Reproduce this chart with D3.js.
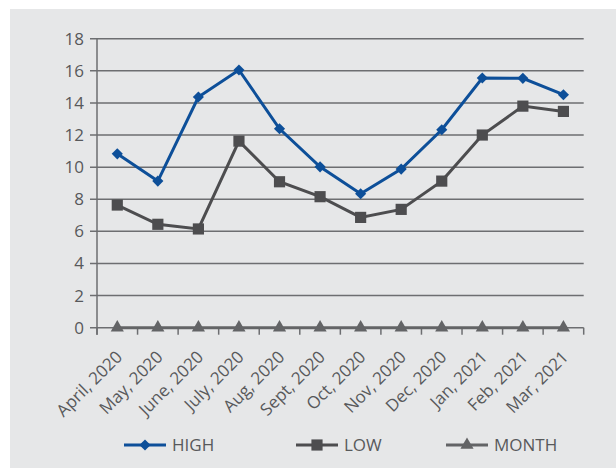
<!DOCTYPE html>
<html>
<head>
<meta charset="utf-8">
<script src="https://cdn.jsdelivr.net/npm/d3@7"></script>
<style>
  body { margin: 0; background: #fff; }
  text { font-family: "Open Sans", sans-serif; fill: #58595b; }
</style>
</head>
<body>
<div id="chart"></div>
<script>
// chart data
var months = ["April, 2020", "May, 2020", "June, 2020", "July, 2020", "Aug, 2020", "Sept, 2020",
              "Oct, 2020", "Nov, 2020", "Dec, 2020", "Jan, 2021", "Feb, 2021", "Mar, 2021"];
var high  = [10.83, 9.13, 14.37, 16.05, 12.39, 10.02, 8.34, 9.88, 12.33, 15.55, 15.53, 14.51];
var low   = [7.64, 6.44, 6.15, 11.62, 9.09, 8.16, 6.87, 7.37, 9.13, 12.0, 13.8, 13.47];
var month = [0, 0, 0, 0, 0, 0, 0, 0, 0, 0, 0, 0];
var yTicks = [0, 2, 4, 6, 8, 10, 12, 14, 16, 18];

var w = 616,
	h = 468,
	plotLeft = 97,		// y-axis position
	plotRight = 583.7,
	plotTop = 38.7,
	plotBottom = 327.7,
	fontSize = "17px";

var svg = d3.select("#chart").append("svg")
	.attr("width", w)
	.attr("height", h);

// grey panel
svg.append("rect")
	.attr("x", 10).attr("y", 9)
	.attr("width", w - 10).attr("height", h - 9)
	.attr("fill", "#e6e7e8");

var xScale = d3.scaleBand()
	.domain(months)
	.range([plotLeft, plotRight]);
var yScale = d3.scaleLinear()
	.domain([0, 18])
	.range([plotBottom, plotTop]);

// horizontal gridlines
svg.selectAll(".grid").data(yTicks)
	.enter().append("line")
	.attr("class", "grid")
	.attr("x1", plotLeft - 7).attr("x2", plotRight)
	.attr("y1", function(d) { return yScale(d); })
	.attr("y2", function(d) { return yScale(d); })
	.style("stroke", "#6d6e71")
	.style("stroke-width", 1.5);

// y axis
var yAxis = d3.axisLeft(yScale)
	.tickValues(yTicks)
	.tickSize(0)
	.tickPadding(13);
var yAxisG = svg.append("g")
	.attr("transform", "translate(" + plotLeft + ",0)")
	.call(yAxis);
yAxisG.select(".domain").remove();
yAxisG.selectAll("text")
	.style("font-family", "Open Sans, sans-serif")
	.style("font-size", fontSize)
	.style("fill", "#58595b");

svg.append("line")
	.attr("x1", plotLeft).attr("x2", plotLeft)
	.attr("y1", plotTop).attr("y2", plotBottom + 7)
	.style("stroke", "#6d6e71")
	.style("stroke-width", 1.5);

// x axis tick marks at band edges
var edges = months.map(function(m) { return xScale(m); }).concat([plotRight]);
svg.selectAll(".xtick").data(edges)
	.enter().append("line")
	.attr("class", "xtick")
	.attr("x1", function(d) { return d; })
	.attr("x2", function(d) { return d; })
	.attr("y1", plotBottom).attr("y2", plotBottom + 7)
	.style("stroke", "#6d6e71")
	.style("stroke-width", 1.5);

// rotated category labels
svg.selectAll(".xlab").data(months)
	.enter().append("text")
	.attr("class", "xlab")
	.attr("transform", function(d) {
		return "translate(" + (xScale(d) + xScale.bandwidth() / 2 + 6) + "," + 358 + ") rotate(-45)";
	})
	.attr("text-anchor", "end")
	.style("font-size", fontSize)
	.text(function(d) { return d; });

// diamond = square turned 45 degrees
var series = [
	{name: "HIGH",  values: high,  color: "#0d4f99", shape: d3.symbolSquare,   size: 62, rot: 45},
	{name: "LOW",   values: low,   color: "#4d4d4f", shape: d3.symbolSquare,   size: 125, rot: 0},
	{name: "MONTH", values: month, color: "#636466", shape: d3.symbolTriangle, size: 75, rot: 0}
];

var line = d3.line()
	.x(function(d, i) { return xScale(months[i]) + xScale.bandwidth() / 2; })
	.y(function(d) { return yScale(d); });

// draw month first so others sit on top
series.slice().reverse().forEach(function(s) {
	svg.append("path")
		.datum(s.values)
		.attr("d", line)
		.style("fill", "none")
		.style("stroke", s.color)
		.style("stroke-width", 3);

	svg.selectAll(".pt-" + s.name).data(s.values)
		.enter().append("path")
		.attr("class", "pt-" + s.name)
		.attr("transform", function(d, i) {
			return "translate(" + (xScale(months[i]) + xScale.bandwidth() / 2) + "," + yScale(d) + ") rotate(" + s.rot + ")";
		})
		.attr("d", d3.symbol().type(s.shape).size(s.size))
		.style("fill", s.color);
});

// legend
var legendX = [124, 296, 446];
var legend = svg.selectAll(".legend").data(series)
	.enter().append("g")
	.attr("class", "legend")
	.attr("transform", function(d, i) { return "translate(" + legendX[i] + ",445)"; });
legend.append("line")
	.attr("x1", 0).attr("x2", 42)
	.style("stroke", function(d) { return d.color; })
	.style("stroke-width", 3);
legend.append("path")
	.attr("transform", function(d) { return "translate(21,0) rotate(" + d.rot + ")"; })
	.attr("d", function(d) { return d3.symbol().type(d.shape).size(d.size)(); })
	.style("fill", function(d) { return d.color; });
legend.append("text")
	.attr("x", 48)
	.attr("y", 6)
	.style("font-size", fontSize)
	.text(function(d) { return d.name; });
</script>
</body>
</html>
